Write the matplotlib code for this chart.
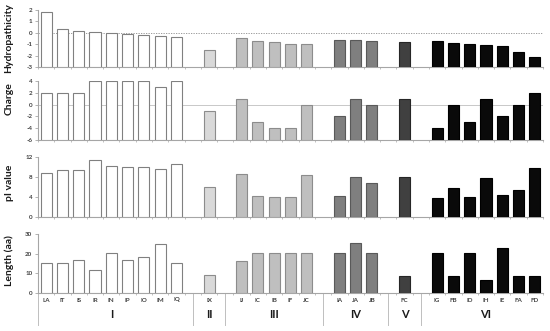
import numpy as np
import matplotlib
matplotlib.use("Agg")
import matplotlib.pyplot as plt
from matplotlib.transforms import blended_transform_factory

plt.rcParams['font.family'] = ['Lato', 'DejaVu Sans']

# ---- data ----
groups = ["I", "II", "III", "IV", "V", "VI"]
cats_I = ["LA", "IT", "IS", "IR", "IN", "IP", "IO", "IM", "IQ"]
cats_II = ["IX"]
cats_III = ["IJ", "IC", "IB", "IF", "JC"]
cats_IV = ["IA", "JA", "JB"]
cats_V = ["FC"]
cats_VI = ["IG", "FB", "ID", "IH", "IE", "FA", "FD"]
group_cats = [cats_I, cats_II, cats_III, cats_IV, cats_V, cats_VI]

hydropathicity = [1.8, 0.3, 0.2, 0.05, 0.0, -0.1, -0.15, -0.25, -0.4,
                  -1.5,
                  -0.45, -0.7, -0.8, -0.95, -0.95,
                  -0.6, -0.62, -0.7,
                  -0.8,
                  -0.7, -0.93, -1.0, -1.1, -1.15, -1.67, -2.12]
charge = [2, 2, 2, 4, 4, 4, 4, 3, 4,
          -1,
          1, -3, -4, -4, 0,
          -2, 1, 0,
          1,
          -4, 0, -3, 1, -2, 0, 2]
pi_value = [8.8, 9.4, 9.4, 11.3, 10.2, 10.1, 10.1, 9.7, 10.5,
            6.0,
            8.6, 4.2, 4.1, 4.0, 8.4,
            4.3, 8.0, 6.9,
            8.1,
            3.9, 5.9, 4.1, 7.9, 4.4, 5.4, 9.8]
length_aa = [15.5, 15.5, 16.8, 11.8, 20.5, 16.8, 18.5, 24.7, 15.5,
             9.3,
             16.3, 20.3, 20.3, 20.3, 20.3,
             20.3, 25.5, 20.3,
             8.5,
             20.3, 8.5, 20.3, 6.7, 23.0, 8.5, 8.5]

group_fill = ["#ffffff", "#d9d9d9", "#bfbfbf", "#7f7f7f", "#404040", "#0a0a0a"]
group_edge = ["#808080", "#8c8c8c", "#8c8c8c", "#595959", "#262626", "#000000"]

# ---- positions: one empty slot between groups ----
xpos, labels, fills, edges, gid = [], [], [], [], []
group_centers, separators = [], []
slot = 0
for g, cats in enumerate(group_cats):
    if g > 0:
        separators.append(slot)
        slot += 1
    start = slot
    for c in cats:
        xpos.append(slot)
        labels.append(c)
        fills.append(group_fill[g])
        edges.append(group_edge[g])
        slot += 1
    group_centers.append((start + slot - 1) / 2)
nslots = slot
xpos = np.array(xpos)

panels = [
    ("Hydropathicity", hydropathicity, (-3, 2), np.arange(-3, 3, 1)),
    ("Charge", charge, (-6, 4), np.arange(-6, 5, 2)),
    ("pI value", pi_value, (0, 12), np.arange(0, 13, 4)),
    ("Length (aa)", length_aa, (0, 30), np.arange(0, 31, 10)),
]

W, H = 550, 331
fig = plt.figure(figsize=(W / 100, H / 100), dpi=100)
# (top_px, bottom_px) of each panel
boxes = [(10, 67), (81, 140), (157, 217), (234, 293)]
label_y = [38, 99, 183, 261]
left_px, right_px = 38, 543

axes = []
for i, (name, vals, ylim, ticks) in enumerate(panels):
    top, bot = boxes[i]
    ax = fig.add_axes([left_px / W, 1 - bot / H, (right_px - left_px) / W, (bot - top) / H])
    axes.append(ax)
    vals = np.array(vals, dtype=float)
    ax.bar(xpos, vals - ylim[0], bottom=ylim[0], width=0.68,
           color=fills, edgecolor=edges, linewidth=0.8, zorder=3)
    ax.set_xlim(-0.5, nslots - 0.5)
    ax.set_ylim(*ylim)
    ax.set_yticks(ticks)
    ax.set_yticklabels([f"{t:g}" for t in ticks])
    for s in ["top", "right"]:
        ax.spines[s].set_visible(False)
    for s in ["left", "bottom"]:
        ax.spines[s].set_color("#a6a6a6")
        ax.spines[s].set_linewidth(0.8)
    ax.tick_params(axis="y", length=2, width=0.6, color="#a6a6a6", pad=2,
                   labelsize=4.5, labelcolor="#404040")
    for t in ax.get_yticklabels():
        t.set_fontweight("bold")
    ax.set_xticks([])
    ax.set_xticks(np.arange(-0.5, nslots, 1), minor=True)
    ax.tick_params(axis="x", which="minor", length=1.5, width=0.5, color="#a6a6a6", labelbottom=False)
    if name == "Hydropathicity":
        ax.axhline(0, color="#8c8c8c", linestyle=(0, (1.5, 1.5)), linewidth=0.6, zorder=2)
    elif name == "Charge":
        ax.axhline(0, color="#c8c8c8", linewidth=0.7, zorder=2)
    fig.text(9 / W, 1 - label_y[i] / H, name, rotation=90, ha="center", va="center",
             fontsize=7.5, fontweight="bold", color="#1a1a1a")

# category and group labels below bottom panel
ax = axes[-1]
tr = blended_transform_factory(ax.transData, ax.transAxes)
bot_h = boxes[-1][1] - boxes[-1][0]
for x, lab in zip(xpos, labels):
    ax.text(x, -7 / bot_h, lab, transform=tr, ha="center", va="center",
            fontsize=4.5, fontweight="bold", color="#404040")
for xc, g in zip(group_centers, groups):
    ax.text(xc, -21 / bot_h, g, transform=tr, ha="center", va="center",
            fontsize=8, fontweight="bold", color="#1a1a1a")
for xs in [-0.5] + separators:
    ax.plot([xs, xs], [0, -32 / bot_h], transform=tr, color="#bfbfbf",
            linewidth=0.7, clip_on=False)

fig.savefig("out.png", dpi=100)
